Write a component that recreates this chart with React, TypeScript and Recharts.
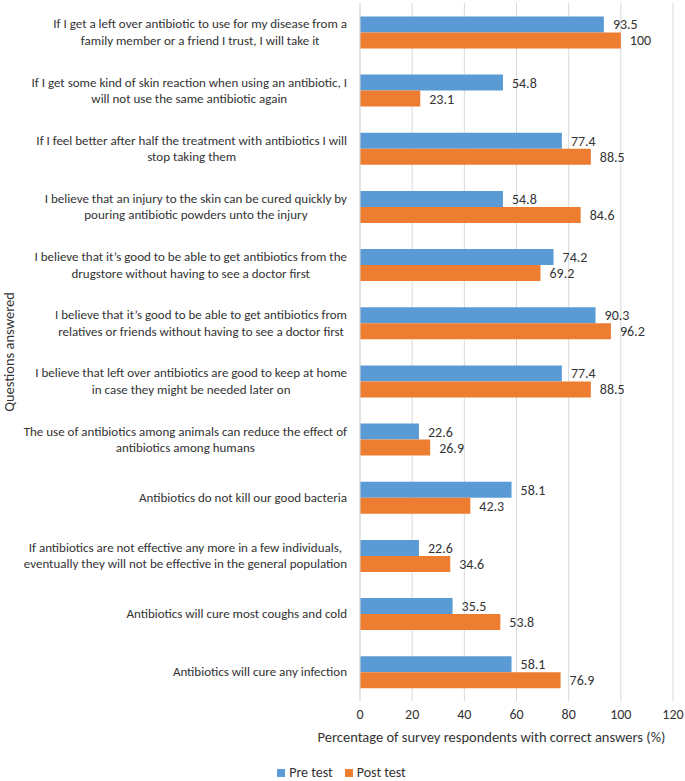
import React from "react";
import { Bar, BarChart, CartesianGrid, Label, LabelList, Legend, XAxis, YAxis } from "recharts";

const questions = [
  "If I get a left over antibiotic to use for my disease from a\nfamily member or a friend I trust, I will take it",
  "If I get some kind of skin reaction when using an antibiotic, I\nwill not use the same antibiotic again",
  "If I feel better after half the treatment with antibiotics I will\nstop taking them",
  "I believe that an injury to the skin can be cured quickly by\npouring antibiotic powders unto the injury",
  "I believe that it\u2019s good to be able to get antibiotics from the\ndrugstore without having to see a doctor first",
  "I believe that it\u2019s good to be able to get antibiotics from\nrelatives or friends without having to see a doctor first",
  "I believe that left over antibiotics are good to keep at home\nin case they might be needed later on",
  "The use of antibiotics among animals can reduce the effect of\nantibiotics among humans",
  "Antibiotics do not kill our good bacteria",
  "If antibiotics are not effective any more in a few individuals,\neventually they will not be effective in the general population",
  "Antibiotics will cure most coughs and cold",
  "Antibiotics will cure any infection",
];

const preTest = [93.5, 54.8, 77.4, 54.8, 74.2, 90.3, 77.4, 22.6, 58.1, 22.6, 35.5, 58.1];
const postTest = [100, 23.1, 88.5, 84.6, 69.2, 96.2, 88.5, 26.9, 42.3, 34.6, 53.8, 76.9];

const xTicks = [0, 20, 40, 60, 80, 100, 120];

const data = questions.map((q, i) => ({ q, pre: preTest[i], post: postTest[i] }));

const FONT = "Carlito, Calibri, Lato, sans-serif";
const BLUE = "#5B9BD5";
const ORANGE = "#ED7D31";
const TEXT = "#333333";

let ctx: CanvasRenderingContext2D | null = null;
function textWidth(t: string, size: number) {
  if (!ctx) ctx = document.createElement("canvas").getContext("2d");
  if (!ctx) return t.length * size * 0.5;
  ctx.font = `${size}px ${FONT}`;
  return ctx.measureText(t).width;
}

function QuestionTick(props: any) {
  const { y, payload } = props;
  const lines: string[] = String(payload.value).split("\n");
  const size = 13;
  const lh = 16.5;
  const maxW = Math.max(...lines.map((l) => textWidth(l, size)));
  const right = 347;
  const cx = right - maxW / 2;
  const startY = y - ((lines.length - 1) * lh) / 2;
  return (
    <text fontFamily={FONT} fontSize={size} fill={TEXT} textAnchor="middle">
      {lines.map((l, i) => (
        <tspan key={i} x={cx} y={startY + i * lh} dy="0.35em">
          {l}
        </tspan>
      ))}
    </text>
  );
}

function YTitle(props: any) {
  const vb = props.viewBox || { y: 3, height: 698 };
  const cy = vb.y + vb.height / 2;
  return (
    <text
      x={9}
      y={cy}
      transform={`rotate(-90, 9, ${cy})`}
      textAnchor="middle"
      dominantBaseline="central"
      fontFamily={FONT}
      fontSize={14.5}
      fill={TEXT}
    >
      Questions answered
    </text>
  );
}

function LegendBox() {
  const item = (color: string, name: string) => (
    <span style={{ display: "inline-flex", alignItems: "center", margin: "0 6px" }}>
      <span style={{ width: 8, height: 8, background: color, display: "inline-block", marginRight: 4 }} />
      {name}
    </span>
  );
  return (
    <div
      style={{
        textAlign: "center",
        fontFamily: FONT,
        fontSize: 14,
        color: TEXT,
        lineHeight: "20px",
        paddingLeft: 10,
      }}
    >
      {item(BLUE, "Pre test")}
      {item(ORANGE, "Post test")}
    </div>
  );
}

export default function App() {
  return (
    <div style={{ position: "absolute", left: 0, top: 0, background: "#fff" }}>
      <BarChart
        width={685}
        height={781}
        data={data}
        layout="vertical"
        barGap={0}
        barCategoryGap="23%"
        margin={{ top: 3, right: 12, bottom: 0, left: 0 }}
      >
        <CartesianGrid horizontal={false} stroke="#d9d9d9" />
        <XAxis
          type="number"
          domain={[0, 120]}
          ticks={xTicks}
          axisLine={false}
          tickLine={false}
          height={60}
          tick={{ fontSize: 14, fill: TEXT, fontFamily: FONT }}
        >
          <Label
            value="Percentage of survey respondents with correct answers (%)"
            position="insideBottom"
            offset={19}
            dx={-25}
            style={{ fontSize: 14.5, fill: TEXT, fontFamily: FONT }}
          />
        </XAxis>
        <YAxis
          type="category"
          dataKey="q"
          width={360}
          axisLine={{ stroke: "#d9d9d9" }}
          tickLine={false}
          tick={<QuestionTick />}
          interval={0}
        >
          <Label content={<YTitle />} />
        </YAxis>
        <Legend verticalAlign="bottom" height={20} content={<LegendBox />} wrapperStyle={{ bottom: -2 }} />
        <Bar dataKey="pre" name="Pre test" fill={BLUE} isAnimationActive={false}>
          <LabelList dataKey="pre" position="right" offset={9} style={{ fontSize: 14, fill: TEXT, fontFamily: FONT }} />
        </Bar>
        <Bar dataKey="post" name="Post test" fill={ORANGE} isAnimationActive={false}>
          <LabelList dataKey="post" position="right" offset={9} style={{ fontSize: 14, fill: TEXT, fontFamily: FONT }} />
        </Bar>
      </BarChart>
    </div>
  );
}
